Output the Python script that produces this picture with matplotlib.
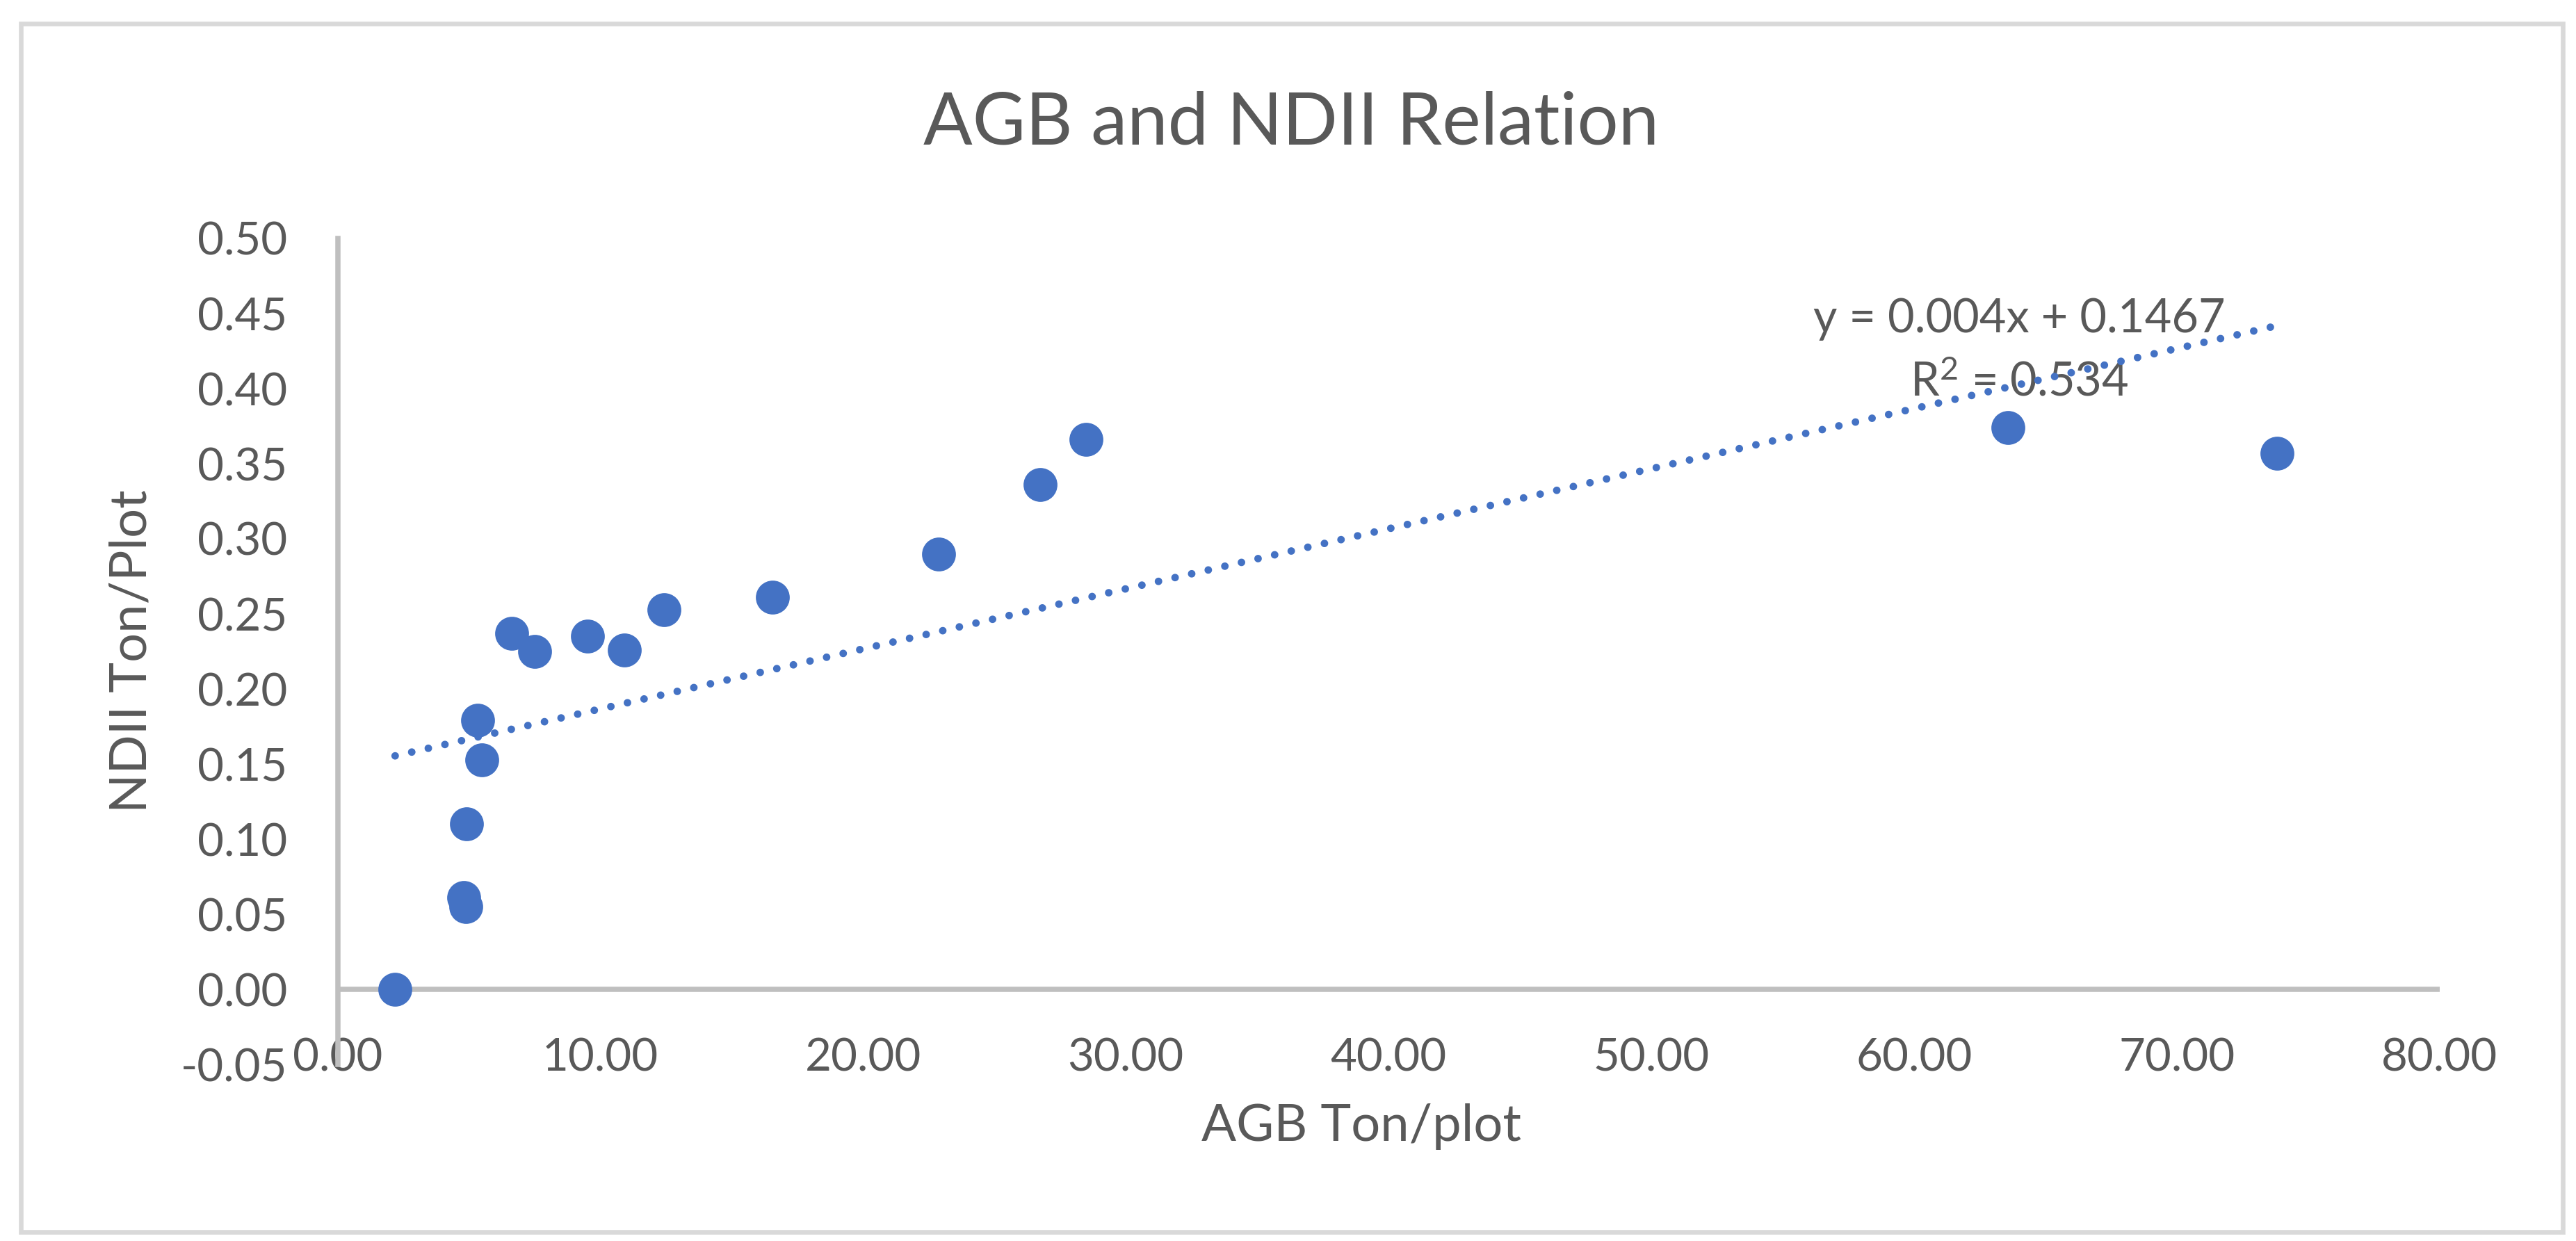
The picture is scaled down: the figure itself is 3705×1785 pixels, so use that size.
import matplotlib
matplotlib.use("Agg")
import matplotlib.pyplot as plt
from matplotlib.patches import Rectangle
from matplotlib.ticker import FormatStrFormatter, MultipleLocator
import numpy as np

plt.rcParams['font.family'] = ['Lato', 'DejaVu Sans']
plt.rcParams['mathtext.fontset'] = 'custom'
plt.rcParams['mathtext.rm'] = 'Lato'
plt.rcParams['mathtext.it'] = 'Lato'
plt.rcParams['mathtext.default'] = 'regular'

# ---- data ----
agb = [2.19, 4.80, 4.89, 4.91, 5.50, 5.33, 6.62, 7.50, 9.52, 10.92,
       12.42, 16.56, 22.88, 26.75, 28.48, 63.57, 73.80]
ndii = [0.000, 0.061, 0.055, 0.110, 0.153, 0.179, 0.237, 0.225, 0.235, 0.226,
        0.253, 0.261, 0.290, 0.336, 0.366, 0.374, 0.357]
trend_slope = 0.004
trend_intercept = 0.1467
r_squared = 0.534

title = "AGB and NDII Relation"
x_label = "AGB Ton/plot"
y_label = "NDII Ton/Plot"

BLUE = "#4472C4"
TEXT = "#595959"
AXIS = "#BFBFBF"
BORDER = "#D9D9D9"

W, H = 3705, 1785
DPI = 300
fig = plt.figure(figsize=(W / DPI, H / DPI), dpi=DPI)

# outer chart border
fig.patches.append(Rectangle((30 / W, (H - 1772) / H), (3686 - 30) / W, (1772 - 34) / H,
                             transform=fig.transFigure, fill=False,
                             edgecolor=BORDER, linewidth=1.6, zorder=0))

left, right = 485.5 / W, 3509 / W
bottom, top = (H - 1531) / H, (H - 343) / H
ax = fig.add_axes([left, bottom, right - left, top - bottom])
ax.set_xlim(0, 80)
ax.set_ylim(-0.05, 0.5)
ax.patch.set_alpha(0)

for s in ['top', 'right', 'bottom']:
    ax.spines[s].set_visible(False)
ax.spines['left'].set_color(AXIS)
ax.spines['left'].set_linewidth(1.8)
ax.axhline(0, color=AXIS, linewidth=1.8, zorder=1)

ax.xaxis.set_major_locator(MultipleLocator(10))
ax.yaxis.set_major_locator(MultipleLocator(0.05))
ax.xaxis.set_major_formatter(FormatStrFormatter('%.2f'))
ax.yaxis.set_major_formatter(FormatStrFormatter('%.2f'))
ax.tick_params(axis='both', length=0, labelsize=15.7, labelcolor=TEXT)
ax.tick_params(axis='y', pad=17.3)
ax.tick_params(axis='x', pad=-9.2)

# data points
ax.plot(agb, ndii, linestyle='none', marker='o', markersize=11.7,
        markerfacecolor=BLUE, markeredgecolor=BLUE, markeredgewidth=0, zorder=3)

# linear trendline over data range
tx = np.array([min(agb), max(agb)])
ty = trend_slope * tx + trend_intercept
ax.plot(tx, ty, color=BLUE, linewidth=2.6, linestyle=(0, (0.01, 2.25)),
        dash_capstyle='round', zorder=4)

ax.text(64.0, 0.4375, f"y = {trend_slope}x + {trend_intercept}", ha='center',
        va='baseline', fontsize=16, color=TEXT, zorder=2)
ax.text(64.0, 0.395, f"R$^{{2}}$ = {r_squared}", ha='center', va='baseline',
        fontsize=16, color=TEXT, zorder=2)

ax.set_xlabel(x_label, fontsize=17.8, color=TEXT)
ax.set_ylabel(y_label, fontsize=17.8, color=TEXT)
ax.xaxis.set_label_coords(0.487, -0.047)
ax.yaxis.set_label_coords(-0.0868, 0.5)

fig.text(1857 / W, (H - 208) / H, title, ha='center', va='baseline',
         fontsize=25.1, color=TEXT)

fig.savefig("out.png", dpi=DPI, facecolor='white')
